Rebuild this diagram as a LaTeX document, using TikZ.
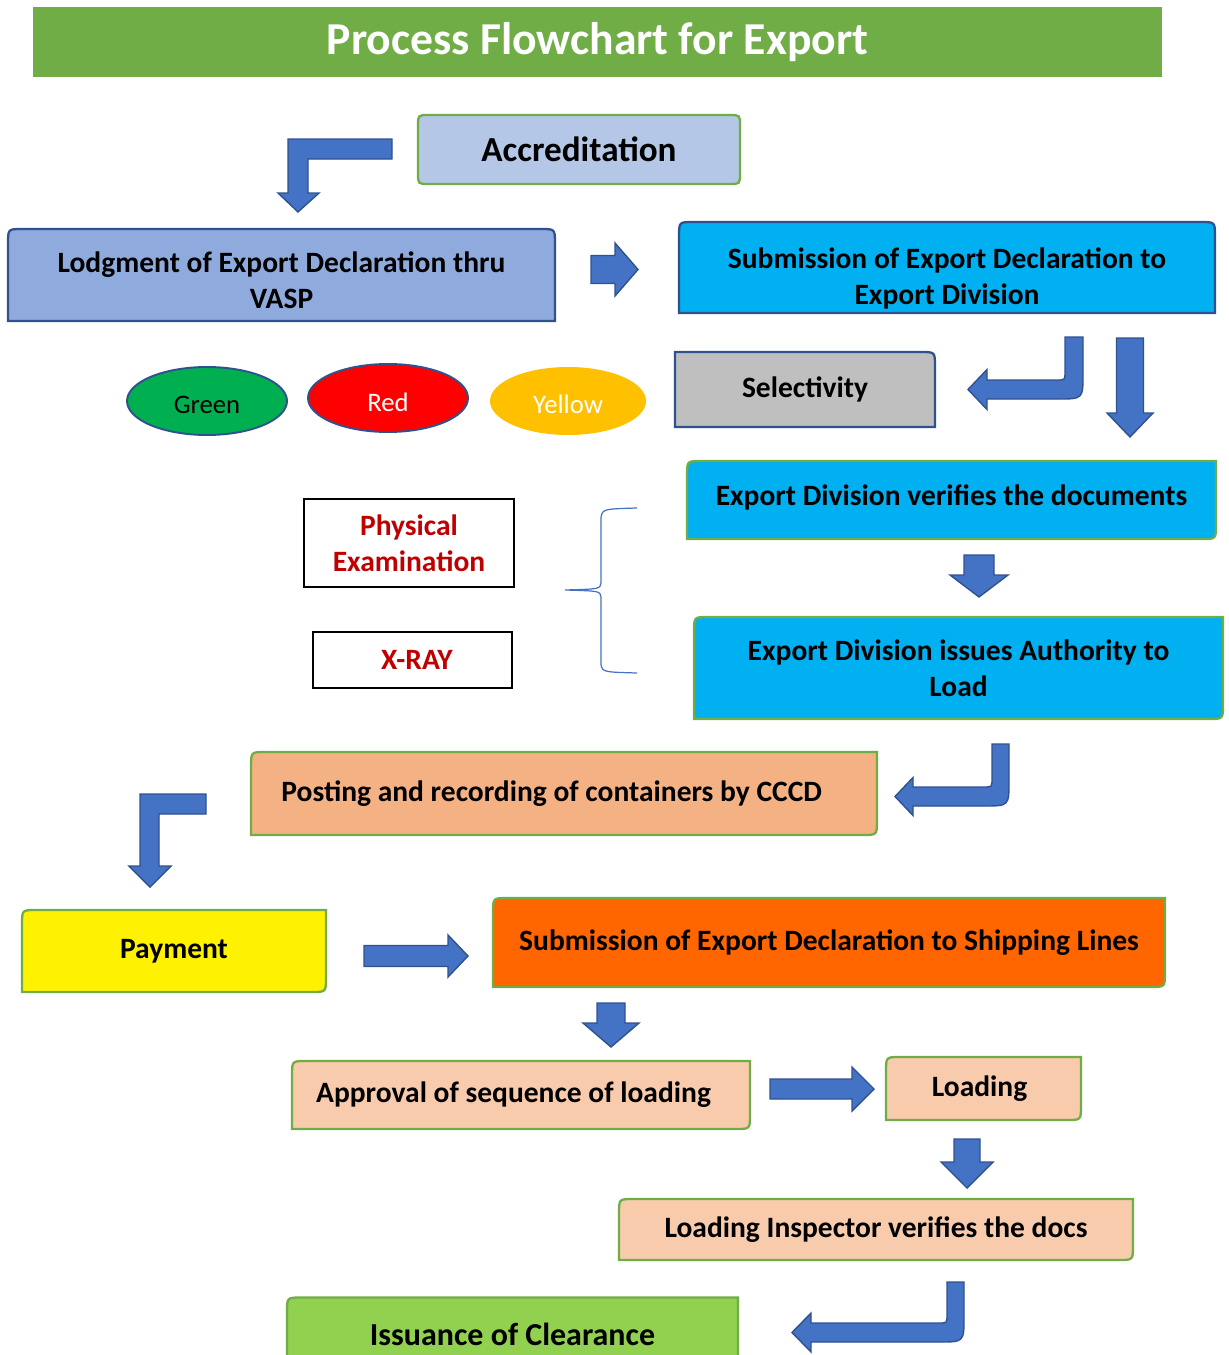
\documentclass[tikz,border=0pt]{standalone}
\usepackage{fontspec}
\setmainfont{Carlito}
\usetikzlibrary{shapes.geometric,backgrounds}

\definecolor{titlegreen}{HTML}{70AD47}
\definecolor{edgegreen}{HTML}{70AD47}
\definecolor{edgeblue}{HTML}{2F528F}
\definecolor{accfill}{HTML}{B4C7E7}
\definecolor{lodgefill}{HTML}{8FAADC}
\definecolor{cyanfill}{HTML}{00B0F0}
\definecolor{grayfill}{HTML}{BFBFBF}
\definecolor{peachfill}{HTML}{F4B183}
\definecolor{lightpeach}{HTML}{F8CBAD}
\definecolor{orangefill}{HTML}{FF6600}
\definecolor{limefill}{HTML}{92D050}
\definecolor{arrowblue}{HTML}{4472C4}
\definecolor{okgreen}{HTML}{00B050}
\definecolor{alertred}{HTML}{FF0000}
\definecolor{amber}{HTML}{FFC000}
\definecolor{darkred}{HTML}{C00000}

% box outline with its own radius per corner: tl, tr, br, bl
\newcommand{\cornerbox}[6]{%
  \begin{pgfonlayer}{background}
  \path[#6] ([yshift=-#2]#1.north west) .. controls (#1.north west) .. ([xshift=#2]#1.north west)
    -- ([xshift=-#3]#1.north east) .. controls (#1.north east) .. ([yshift=-#3]#1.north east)
    -- ([yshift=#4]#1.south east) .. controls (#1.south east) .. ([xshift=-#4]#1.south east)
    -- ([xshift=#5]#1.south west) .. controls (#1.south west) .. ([yshift=#5]#1.south west)
    -- cycle;
  \end{pgfonlayer}}

% block arrows: x, top, head base, tip, shaft half, head half
\newcommand{\downblock}[6]{%
  \filldraw[blockarrow] ({#1-#5},#2) -- ({#1+#5},#2) -- ({#1+#5},#3) -- ({#1+#6},#3)
    -- (#1,#4) -- ({#1-#6},#3) -- ({#1-#5},#3) -- cycle;}
% y, left, head base, tip, shaft half, head half
\newcommand{\rightblock}[6]{%
  \filldraw[blockarrow] (#2,{#1-#5}) -- (#3,{#1-#5}) -- (#3,{#1-#6})
    -- (#4,#1) -- (#3,{#1+#6}) -- (#3,{#1+#5}) -- (#2,{#1+#5}) -- cycle;}
% down then left: x left, x right, top, bar top, bar bottom, head base, head half, tip
\newcommand{\bentblock}[8]{%
  \filldraw[blockarrow] (#1,#3) -- (#2,#3) -- (#2,{#5-25}) .. controls (#2,#5) .. ({#2-25},#5)
    -- (#6,#5) -- (#6,{(#4+#5)/2+#7}) -- (#8,{(#4+#5)/2}) -- (#6,{(#4+#5)/2-#7})
    -- (#6,#4) -- ({#1-8},#4) .. controls (#1,#4) .. (#1,{#4-8}) -- cycle;}

\begin{document}
\begin{tikzpicture}[x=0.02cm, y=-0.02cm,
  % Node styles
  box/.style={inner sep=0pt, outer sep=0pt, align=center, font=\fontsize{16.8}{20.5}\selectfont\bfseries},
  oval/.style={ellipse, inner sep=0pt, minimum width=3.2cm, minimum height=1.36cm,
    font=\fontsize{15.2}{18}\selectfont, line width=1.1pt},
  framed/.style={box, draw=black, line width=0.6pt, fill=white, text=darkred},
  % Outline styles
  greenline/.style={fill=#1, draw=edgegreen, line width=1.3pt},
  blueline/.style={fill=#1, draw=edgeblue, line width=1.3pt},
  blockarrow/.style={fill=arrowblue, draw=edgeblue, line width=0.8pt, line join=miter},
  brace/.style={draw=arrowblue, line width=0.7pt},
]
\useasboundingbox (0,0) rectangle (1229,1355);

% === TITLE ===
\node[fill=titlegreen, inner sep=0pt, minimum width=22.58cm, minimum height=1.4cm, text=white,
  font=\fontsize{26}{30}\selectfont\bfseries] (title) at (597.5,42) {Process Flowchart for Export\hspace{10pt}};

% === TOP ROW ===
\node[box, minimum width=6.44cm, minimum height=1.38cm, font=\fontsize{20}{24}\selectfont\bfseries]
  (acc) at (579,149.5) {Accreditation};
\node[box, minimum width=10.94cm, minimum height=1.84cm] (lodge) at (281.5,275)
  {\rule{0pt}{18pt}Lodgment of Export Declaration thru\\VASP};
\node[box, minimum width=10.72cm, minimum height=1.82cm] (subed) at (947,267.5)
  {\rule{0pt}{24pt}Submission of Export Declaration to\\Export Division};

\cornerbox{acc}{6pt}{6pt}{6pt}{6pt}{greenline=accfill}
\cornerbox{lodge}{8pt}{8pt}{0pt}{0pt}{blueline=lodgefill}
\cornerbox{subed}{8pt}{8pt}{0pt}{0pt}{blueline=cyanfill}

% === SELECTIVITY ===
\node[oval, fill=okgreen, draw=edgeblue] (green) at (207,401) {\rule{0pt}{14pt}Green};
\node[oval, fill=alertred, draw=edgeblue, text=white] (red) at (388,398) {\rule{0pt}{15pt}Red};
\node[oval, fill=amber, text=white, minimum width=3.12cm] (yellow) at (568,401) {\rule{0pt}{14pt}Yellow};
\node[box, minimum width=5.2cm, minimum height=1.5cm] (select) at (805,389.5) {Selectivity};
\cornerbox{select}{0pt}{8pt}{0pt}{0pt}{blueline=grayfill}

% === EXPORT DIVISION ===
\node[box, minimum width=10.58cm, minimum height=1.56cm] (verify) at (951.5,500)
  {Export Division verifies the documents\rule[-5pt]{0pt}{1pt}};
\node[box, minimum width=10.58cm, minimum height=2.04cm] (authority) at (958.5,668)
  {Export Division issues Authority to\\Load};
\cornerbox{verify}{8pt}{0pt}{8pt}{0pt}{greenline=cyanfill}
\cornerbox{authority}{8pt}{0pt}{8pt}{0pt}{greenline=cyanfill}

\node[framed, minimum width=4.2cm, minimum height=1.76cm] (physical) at (409,543)
  {Physical\\Examination};
\node[framed, minimum width=3.98cm, minimum height=1.12cm] (xray) at (412.5,660) {\hspace{5pt}X-RAY};

% brace
\coordinate (bracetop) at (637,508);
\coordinate (bracetip) at (565,590);
\coordinate (bracebot) at (637,673);
\draw[brace] (bracetop) .. controls (603,509) .. (601,517) -- (601,583)
  .. controls (600,589) .. (bracetip) .. controls (600,591) .. (601,597) -- (601,665)
  .. controls (603,672) .. (bracebot);

% === CONTAINERS AND PAYMENT ===
\node[box, minimum width=12.52cm, minimum height=1.66cm] (posting) at (564,793.5)
  {Posting and recording of containers by CCCD\hspace{14pt}};
\node[box, minimum width=6.08cm, minimum height=1.64cm] (payment) at (174,951) {Payment};
\node[box, minimum width=13.44cm, minimum height=1.78cm] (shipping) at (829,942.5)
  {Submission of Export Declaration to Shipping Lines};
\cornerbox{posting}{8pt}{0pt}{8pt}{0pt}{greenline=peachfill}
\cornerbox{payment}{8pt}{0pt}{8pt}{0pt}{greenline=yellow}
\cornerbox{shipping}{8pt}{0pt}{8pt}{0pt}{greenline=orangefill}

% === LOADING ===
\node[box, minimum width=9.16cm, minimum height=1.36cm] (approval) at (521,1095)
  {Approval of sequence of loading\hspace{8.5pt}};
\node[box, minimum width=3.9cm, minimum height=1.26cm] (loading) at (983.5,1088.5) {Loading\hspace{4.5pt}};
\node[box, minimum width=10.28cm, minimum height=1.22cm] (inspector) at (876,1229.5)
  {Loading Inspector verifies the docs};
\node[box, minimum width=9.02cm, minimum height=1.46cm, font=\fontsize{18.2}{22}\selectfont\bfseries]
  (clearance) at (512.5,1334) {Issuance of Clearance};
\cornerbox{approval}{8pt}{0pt}{8pt}{0pt}{greenline=lightpeach}
\cornerbox{loading}{8pt}{0pt}{8pt}{0pt}{greenline=lightpeach}
\cornerbox{inspector}{8pt}{0pt}{8pt}{0pt}{greenline=lightpeach}
\cornerbox{clearance}{8pt}{0pt}{8pt}{0pt}{greenline=limefill}

% === BLOCK ARROWS ===
\filldraw[blockarrow] (392,139) -- (288,139) -- (288,193) -- (278,193) -- (298,212)
  -- (319,193) -- (308,193) -- (308,159) -- (392,159) -- cycle;
\rightblock{269.5}{591}{615}{638}{14}{26.5}
\bentblock{1065}{1083}{337}{380}{399}{987}{20}{968}
\downblock{1130}{338}{413}{437}{13.5}{23}
\downblock{979}{555}{575}{597}{15}{29}
\bentblock{992}{1009}{744}{787}{806}{913}{19}{895}
\filldraw[blockarrow] (206,794) -- (140,794) -- (140,866) -- (129,866) -- (150,887)
  -- (171,866) -- (159,866) -- (159,814) -- (206,814) -- cycle;
\rightblock{956}{364}{448}{468}{10.5}{21}
\downblock{611}{1003}{1023}{1047}{14}{28}
\rightblock{1089}{770}{852}{874}{10}{22}
\downblock{967}{1139}{1162}{1188}{13}{26}
\bentblock{947}{964}{1282}{1323}{1342}{811}{19.5}{792}

\end{tikzpicture}
\end{document}
